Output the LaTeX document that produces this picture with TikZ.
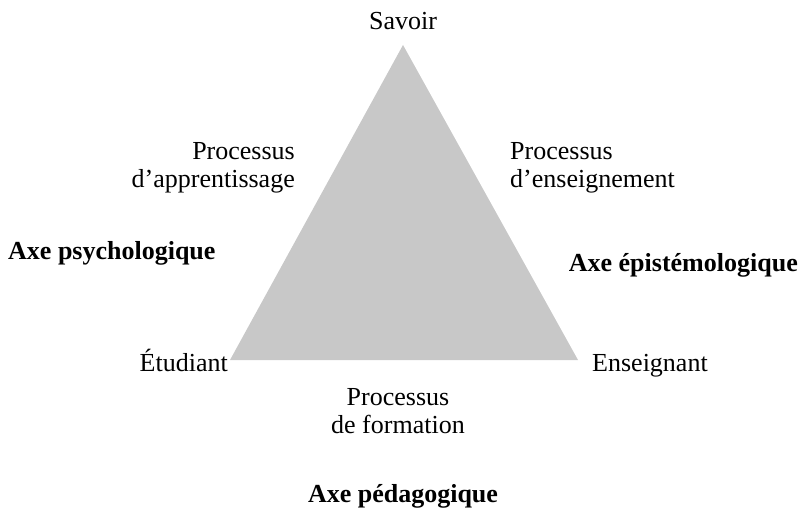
\documentclass[tikz,border=0pt]{standalone}
\usepackage{fontspec}
\setmainfont{Liberation Serif}
\begin{document}
\begin{tikzpicture}[x=1pt,y=-1pt,
  lbl/.style={inner sep=0pt,font=\fontsize{26}{28}\selectfont},
  axe/.style={inner sep=0pt,font=\fontsize{26}{28}\selectfont\bfseries}]
\useasboundingbox (0,0) rectangle (802,511);
\coordinate (S) at (403,45);
\coordinate (E) at (230,360);
\coordinate (N) at (578,360);
\fill[fill={rgb,255:red,200;green,200;blue,200}] (S) -- (E) -- (N) -- cycle;
\node[lbl,anchor=base] (savoir) at (403,30) {Savoir};
\node[lbl,anchor=base east,align=right] (app) at (295,187) {Processus\\d’apprentissage};
\node[lbl,anchor=base west,align=left] (ens) at (510,187) {Processus\\d’enseignement};
\node[axe,anchor=base west] (psy) at (8,259) {Axe psychologique};
\node[axe,anchor=base east] (epi) at (798,271) {Axe épistémologique};
\node[lbl,anchor=base east] (etu) at (228,371) {Étudiant};
\node[lbl,anchor=base west] (enseignant) at (592,371) {Enseignant};
\node[lbl,anchor=base,align=center] (form) at (398,433) {Processus\\de formation};
\node[axe,anchor=base] (ped) at (403,502) {Axe pédagogique};
\end{tikzpicture}
\end{document}
